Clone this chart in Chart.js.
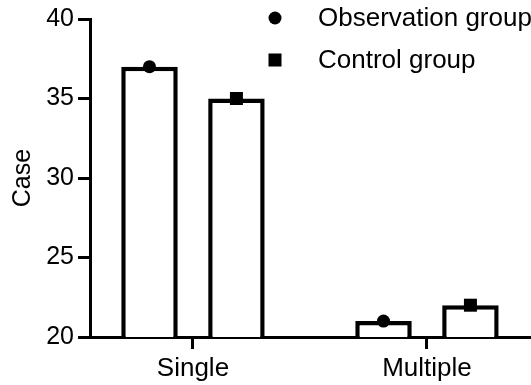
<!DOCTYPE html>
<html>
<head>
<meta charset="utf-8">
<script src="https://cdn.jsdelivr.net/npm/chart.js@4/dist/chart.umd.min.js"></script>
<style>
html,body{margin:0;padding:0;background:#fff;}
#wrap{width:531px;height:385px;position:relative;}
</style>
</head>
<body>
<div id="wrap"><canvas id="c" width="531" height="385"></canvas></div>
<script>
const categories = ['Single', 'Multiple'];
const seriesNames = ['Observation group', 'Control group'];
const observationValues = [37, 21];
const controlValues = [35, 22];
const yTicks = [20, 25, 30, 35, 40];
const markerStyles = ['circle', 'square'];

Chart.defaults.font.family = '"Liberation Sans", Arial, sans-serif';
Chart.defaults.color = '#000';

function toPoints(vals){ return vals.map((v,i)=>({x:i, y:v})); }

function drawMarker(ctx, style, x, y){
  ctx.save();
  ctx.fillStyle = '#000';
  if (style === 'circle') {
    ctx.beginPath();
    ctx.arc(x, y, 6.5, 0, Math.PI*2);
    ctx.fill();
  } else {
    ctx.fillRect(x - 6.5, y - 6.5, 13, 13);
  }
  ctx.restore();
}

const markerPlugin = {
  id: 'markers',
  afterDatasetsDraw(chart){
    const ctx = chart.ctx;
    chart.data.datasets.forEach((ds, i) => {
      const meta = chart.getDatasetMeta(i);
      meta.data.forEach(el => drawMarker(ctx, markerStyles[i], el.x, el.y));
    });
  },
  afterDraw(chart){
    const ctx = chart.ctx;
    ctx.save();
    ctx.font = '26px "Liberation Sans", Arial, sans-serif';
    ctx.fillStyle = '#000';
    ctx.textBaseline = 'middle';
    ctx.textAlign = 'left';
    chart.data.datasets.forEach((ds, i) => {
      const y = 18 + i * 42;
      drawMarker(ctx, markerStyles[i], 275, y);
      ctx.fillText(ds.label, 318, y + 1);
    });
    ctx.restore();
  }
};

new Chart(document.getElementById('c'), {
  type: 'bar',
  data: {
    datasets: [
      { label: seriesNames[0], data: toPoints(observationValues), backgroundColor: '#fff', borderColor: '#000', borderWidth: 4.5 },
      { label: seriesNames[1], data: toPoints(controlValues), backgroundColor: '#fff', borderColor: '#000', borderWidth: 4.5 }
    ]
  },
  plugins: [markerPlugin],
  options: {
    responsive: false,
    animation: false,
    categoryPercentage: 0.743,
    barPercentage: 0.65,
    layout: { padding: { top: 18, right: 2, left: 4, bottom: 0 } },
    plugins: { legend: { display: false }, tooltip: { enabled: false } },
    scales: {
      x: {
        type: 'linear',
        min: -0.44,
        max: 1.436,
        offset: false,
        afterBuildTicks: s => { s.ticks = categories.map((c,i)=>({value:i})); },
        afterFit: s => { s.height = 48; },
        ticks: {
          autoSkip: false,
          maxRotation: 0,
          padding: 4,
          font: { size: 26 },
          color: '#000',
          callback: v => categories[v]
        },
        grid: { drawOnChartArea: false, offset: false, tickLength: 12, lineWidth: 3, color: '#000' },
        border: { color: '#000', width: 3 }
      },
      y: {
        min: 20,
        max: 40,
        afterBuildTicks: s => { s.ticks = yTicks.map(v=>({value:v})); },
        afterFit: s => { s.width = 86; },
        ticks: { padding: 4, font: { size: 25 }, color: '#000' },
        grid: { drawOnChartArea: false, tickLength: 12, lineWidth: 3, color: '#000' },
        border: { color: '#000', width: 3 },
        title: { display: true, text: 'Case', font: { size: 25 }, color: '#000', padding: 4 }
      }
    }
  }
});
</script>
</body>
</html>
